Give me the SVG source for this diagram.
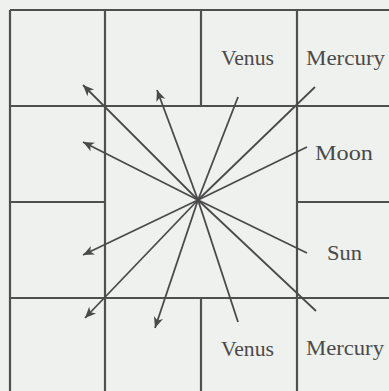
<svg xmlns="http://www.w3.org/2000/svg" width="389" height="391" viewBox="0 0 389 391">
<style>
.grid{stroke:#4f4f4f;stroke-width:2.2;fill:none}
.ray{stroke:#4a4a4a;stroke-width:1.8;fill:none}
.arr{marker-end:url(#ah)}
.lbl{font-family:"Liberation Serif","Times New Roman",serif;font-size:21px;fill:#4a4a4a}
</style>
<defs>
<marker id="ah" markerUnits="userSpaceOnUse" viewBox="-12 -6 13 12" refX="0" refY="0" markerWidth="13" markerHeight="12" orient="auto">
<path d="M0,0 L-11,-4.8 L-8,0 L-11,4.8 Z" fill="#4a4a4a"/>
</marker>
</defs>
<rect width="389" height="391" fill="#eff1ef"/>
<g id="grid">
<line class="grid" x1="10" y1="10" x2="389" y2="10"/>
<line class="grid" x1="10" y1="10" x2="10" y2="391"/>
<line class="grid" x1="10" y1="106" x2="389" y2="106"/>
<line class="grid" x1="10" y1="298" x2="389" y2="298"/>
<line class="grid" x1="10" y1="202" x2="105" y2="202"/>
<line class="grid" x1="297" y1="202" x2="389" y2="202"/>
<line class="grid" x1="105" y1="10" x2="105" y2="391"/>
<line class="grid" x1="297" y1="10" x2="297" y2="391"/>
<line class="grid" x1="201" y1="10" x2="201" y2="106"/>
<line class="grid" x1="201" y1="298" x2="201" y2="391"/>
</g>
<g id="connectors">
<line class="ray arr" x1="198" y1="200" x2="83" y2="85"/>
<line class="ray arr" x1="198" y1="200" x2="157" y2="90"/>
<line class="ray arr" x1="198" y1="200" x2="83" y2="142"/>
<line class="ray arr" x1="198" y1="200" x2="83" y2="255"/>
<line class="ray arr" x1="198" y1="200" x2="85" y2="318"/>
<line class="ray arr" x1="198" y1="200" x2="155" y2="328"/>
<line class="ray" x1="198" y1="200" x2="238" y2="97"/>
<line class="ray" x1="198" y1="200" x2="315" y2="87"/>
<line class="ray" x1="198" y1="200" x2="307" y2="147"/>
<line class="ray" x1="198" y1="200" x2="307" y2="253"/>
<line class="ray" x1="198" y1="200" x2="316" y2="311"/>
<line class="ray" x1="198" y1="200" x2="238" y2="322"/>
</g>
<g id="venus-top"><text class="lbl" x="221" y="65" textLength="53" lengthAdjust="spacingAndGlyphs">Venus</text></g>
<g id="mercury-top"><text class="lbl" x="306" y="65" textLength="79" lengthAdjust="spacingAndGlyphs">Mercury</text></g>
<g id="moon"><text class="lbl" x="315" y="160" textLength="58" lengthAdjust="spacingAndGlyphs">Moon</text></g>
<g id="sun"><text class="lbl" x="327" y="260" textLength="35" lengthAdjust="spacingAndGlyphs">Sun</text></g>
<g id="venus-bottom"><text class="lbl" x="221" y="356" textLength="53" lengthAdjust="spacingAndGlyphs">Venus</text></g>
<g id="mercury-bottom"><text class="lbl" x="306" y="355" textLength="78" lengthAdjust="spacingAndGlyphs">Mercury</text></g>
</svg>
